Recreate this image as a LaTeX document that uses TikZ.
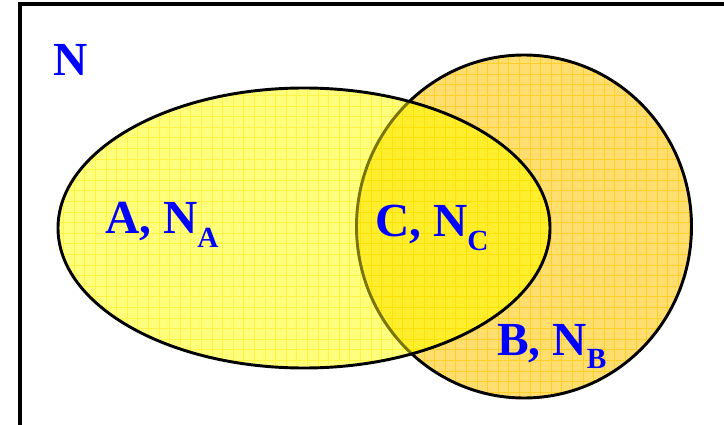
\documentclass[tikz,border=0pt]{standalone}
\usepackage{fontspec}
\setmainfont{Liberation Serif}
\definecolor{vnblue}{RGB}{0,0,255}
\definecolor{vnyellow}{RGB}{255,255,125}
\definecolor{vnyellowgrid}{RGB}{255,244,70}
\definecolor{vnorange}{RGB}{255,222,112}
\definecolor{vnorangegrid}{RGB}{255,206,40}
\definecolor{vnboth}{RGB}{255,238,45}
\definecolor{vnbothgrid}{RGB}{255,226,0}
\definecolor{vnolive}{RGB}{120,118,0}
\newcommand{\vsub}[1]{\raisebox{-0.28em}{\fontsize{25}{25}\selectfont #1}}

\begin{document}
\begin{tikzpicture}[x=0.03cm,y=-0.03cm,
    lbl/.style={font=\fontsize{40.5}{44}\selectfont\bfseries,text=vnblue,inner sep=0pt,anchor=base west},
    rim/.style={line width=2.5pt},
    mesh/.style={line width=0.8pt,step=3.18mm}]
  \useasboundingbox (0,0) rectangle (724,425);
  \clip (0,0) rectangle (724,425);
  %% Outer frame (universe)
  \draw[line width=3.4pt] (20,4) rectangle (760,460);
  %% Set B
  \fill[vnorange] (524,226.5) ellipse [x radius=167.5,y radius=171.5];
  \begin{scope}
    \clip (524,226.5) ellipse [x radius=167.5,y radius=171.5];
    \draw[vnorangegrid,mesh] (350,50) grid (700,400);
  \end{scope}
  \draw[rim] (524,226.5) ellipse [x radius=167.5,y radius=171.5];
  %% Set A
  \fill[vnyellow] (304,228) ellipse [x radius=246,y radius=140];
  \begin{scope}
    \clip (304,228) ellipse [x radius=246,y radius=140];
    \draw[vnyellowgrid,mesh] (50,80) grid (560,380);
    %% Intersection C
    \fill[vnboth] (524,226.5) ellipse [x radius=167.5,y radius=171.5];
    \begin{scope}
      \clip (524,226.5) ellipse [x radius=167.5,y radius=171.5];
      \draw[vnbothgrid,mesh] (350,80) grid (560,380);
    \end{scope}
    \draw[rim,vnolive] (524,226.5) ellipse [x radius=167.5,y radius=171.5];
  \end{scope}
  \draw[rim] (304,228) ellipse [x radius=246,y radius=140];
  %% Labels
  \node[lbl] (univ) at (53,76) {N};
  \node[lbl] (setA) at (105,234) {A, N\vsub{A}};
  \node[lbl] (setC) at (375,237) {C, N\vsub{C}};
  \node[lbl] (setB) at (497,355) {B, N\vsub{B}};
\end{tikzpicture}
\end{document}
